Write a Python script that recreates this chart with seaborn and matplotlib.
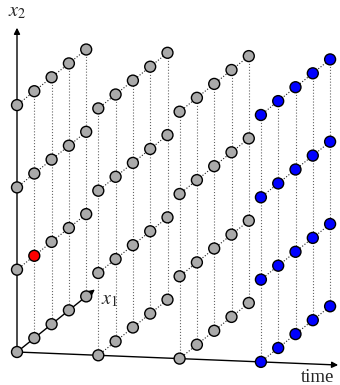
import numpy as np
import pandas as pd
import matplotlib
matplotlib.use('Agg')
import matplotlib.pyplot as plt
import seaborn as sns

# lattice of states: time slices, x1 levels, x2 levels
times = [0, 1, 2, 3]
x1_levels = [0, 1, 2, 3, 4]
x2_levels = [0, 1, 2, 3]
current_time = 3
observed = (0, 1, 1)  # (t, x1, x2) marked in red

# oblique projection of (t, x1, x2) onto the page (pixel units)
origin = np.array([17.0, 352.0])
e_t = np.array([81.3, 3.3])
e_x1 = np.array([17.3, -13.9])
e_x2 = np.array([0.0, -82.3])


def proj(t, x1, x2):
    p = origin + t * e_t + x1 * e_x1 + x2 * e_x2
    return p[0], p[1]


rows = []
for t in times:
    for a in x1_levels:
        for b in x2_levels:
            px, py = proj(t, a, b)
            if (t, a, b) == observed:
                kind = 'observed'
            elif t == current_time:
                kind = 'current'
            else:
                kind = 'past'
            rows.append(dict(px=px, py=py, kind=kind))
df = pd.DataFrame(rows)

sns.set_style('white')
plt.rcParams['mathtext.fontset'] = 'stix'
plt.rcParams['font.family'] = ['Liberation Serif', 'DejaVu Serif']

fig = plt.figure(figsize=(3.4, 3.85), dpi=100)
ax = fig.add_axes([0, 0, 1, 1])

dot = dict(ls=':', lw=0.8, zorder=1)
for t in times:
    # vertical dotted lines along x2
    for a in x1_levels:
        if t == 0 and a == 0:
            continue
        x0, y0 = proj(t, a, x2_levels[0])
        x1_, y1_ = proj(t, a, x2_levels[-1])
        ax.plot([x0, x1_], [y0, y1_], color='#666666', **dot)
    # diagonal dotted lines along x1
    for b in x2_levels:
        if t == 0 and b == 0:
            continue
        x0, y0 = proj(t, x1_levels[0], b)
        x1_, y1_ = proj(t, x1_levels[-1], b)
        ax.plot([x0, x1_], [y0, y1_], color='#222222', **dot)

arrow = dict(arrowstyle='-|>', color='black', lw=1.0, mutation_scale=9,
             shrinkA=0, shrinkB=0)
ax.annotate('', xy=proj(0, 0, 3.94), xytext=proj(0, 0, 0), arrowprops=arrow, zorder=2)
ax.annotate('', xy=proj(0, 4.5, 0), xytext=proj(0, 0, 0), arrowprops=arrow, zorder=2)
ax.annotate('', xy=proj(3.95, 0, 0), xytext=proj(0, 0, 0), arrowprops=arrow, zorder=2)

sns.scatterplot(data=df, x='px', y='py', hue='kind',
                palette={'past': '#aaaaaa', 'current': '#0000ff', 'observed': '#ff0000'},
                s=62, edgecolor='black', linewidth=1.0, legend=False, ax=ax, zorder=3)
ax.set_xlim(0, 340)
ax.set_ylim(385, 0)
ax.axis('off')

ax.text(17, 12, '$x_2$', fontsize=14.5, ha='center', va='center')
ax.text(110, 300, '$x_1$', fontsize=14.5, ha='center', va='center')
ax.text(318, 377, 'time', fontsize=13.5, ha='center', va='center')

fig.savefig('out.png', dpi=100)
